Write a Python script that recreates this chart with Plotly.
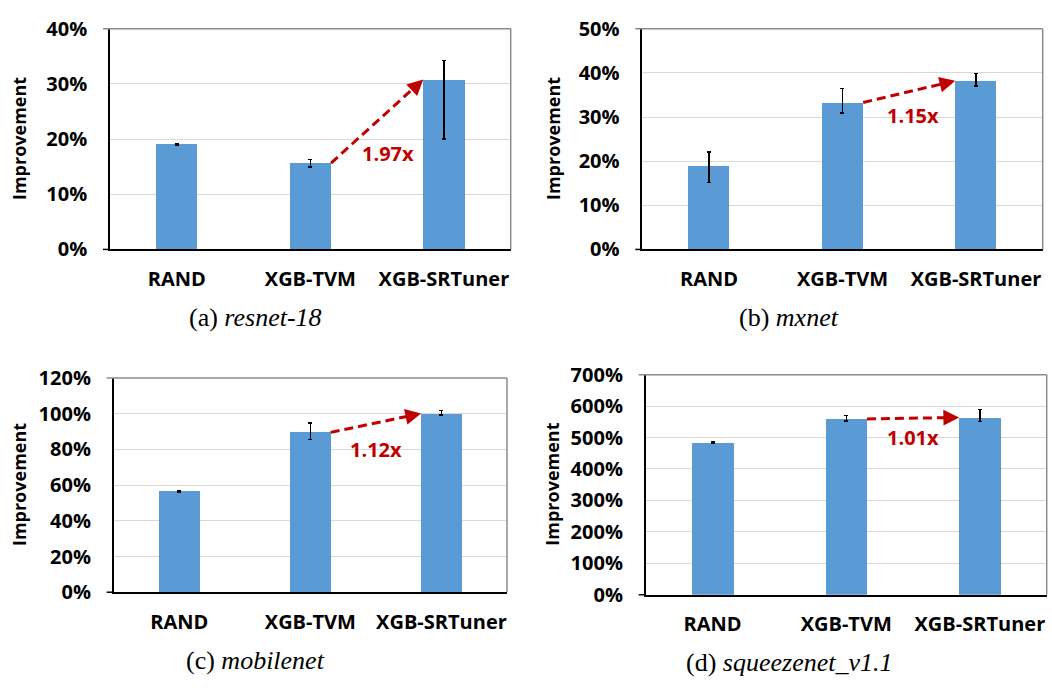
import plotly.graph_objects as go

# Tuners compared in every panel
categories = ["RAND", "XGB-TVM", "XGB-SRTuner"]

# Improvement (%) per network, with asymmetric error bars
resnet18 = [19.1, 15.65, 30.8]
resnet18_err_plus = [0.15, 0.7, 3.5]
resnet18_err_minus = [0.15, 0.7, 10.8]

mxnet = [19.0, 33.3, 38.2]
mxnet_err_plus = [3.1, 3.2, 1.6]
mxnet_err_minus = [3.9, 2.4, 1.2]

mobilenet = [56.5, 89.5, 100.1]
mobilenet_err_plus = [0.4, 5.2, 1.5]
mobilenet_err_minus = [0.4, 3.9, 0.9]

squeezenet = [484, 559, 564]
squeezenet_err_plus = [2, 12, 26]
squeezenet_err_minus = [2, 6, 14]

captions = ["(a) <i>resnet-18</i>", "(b) <i>mxnet</i>",
            "(c) <i>mobilenet</i>", "(d) <i>squeezenet_v1.1</i>"]

W, H = 1052, 692
BAR = "#5B9BD5"
RED = "#C00000"
BAR_W = 0.31

# panel layout in pixels: (left, right, top, bottom), y max, dtick, label pos
panels = [
    dict(vals=resnet18, ep=resnet18_err_plus, em=resnet18_err_minus,
         box=(110, 510.7, 15.3, 245), ymax=40, dtick=10,
         txt=(1.58, 17.4), cap=(255, 316), ylab=19),
    dict(vals=mxnet, ep=mxnet_err_plus, em=mxnet_err_minus,
         box=(642.3, 1042.7, 15.3, 245), ymax=50, dtick=10,
         txt=(1.53, 30.3), cap=(789, 316), ylab=553),
    dict(vals=mobilenet, ep=mobilenet_err_plus, em=mobilenet_err_minus,
         box=(113.7, 507, 378.7, 601.7), ymax=120, dtick=20,
         txt=(1.50, 79.9), cap=(255, 673), ylab=19),
    dict(vals=squeezenet, ep=squeezenet_err_plus, em=squeezenet_err_minus,
         box=(645.7, 1046.7, 375.3, 604.3), ymax=700, dtick=100,
         txt=(1.50, 499), cap=(789, 675), ylab=552),
]

SANS = "Open Sans"
BOLD = dict(family=SANS, size=20, color="black", weight="bold")

fig = go.Figure()
shapes, annotations = [], []

for i, p in enumerate(panels, start=1):
    xa = "x" if i == 1 else f"x{i}"
    ya = "y" if i == 1 else f"y{i}"
    left, right, top, bottom = p["box"]
    x0, x1 = left / W, right / W
    y0, y1 = 1 - bottom / H, 1 - top / H

    fig.add_trace(go.Bar(
        x=[0, 1, 2], y=p["vals"], width=BAR_W, marker_color=BAR,
        marker_line_width=0, xaxis=xa, yaxis=ya, showlegend=False,
        error_y=dict(type="data", symmetric=False, array=p["ep"],
                     arrayminus=p["em"], color="black", thickness=1.3,
                     width=2),
    ))

    xkey = "xaxis" if i == 1 else f"xaxis{i}"
    ykey = "yaxis" if i == 1 else f"yaxis{i}"
    fig.update_layout(**{
        xkey: dict(domain=[x0, x1], anchor=ya, range=[-0.5, 2.5],
                   tickvals=[0, 1, 2], ticktext=categories,
                   tickfont=BOLD, showline=True, linecolor="black",
                   linewidth=1.5, ticks="", ticklabelstandoff=11,
                   showgrid=False, zeroline=False, fixedrange=True),
        ykey: dict(domain=[y0, y1], anchor=xa, range=[0, p["ymax"]],
                   dtick=p["dtick"], ticksuffix="%", tickfont=BOLD,
                   showline=True, linecolor="black", linewidth=1.5,
                   showgrid=True, gridcolor="#D9D9D9", gridwidth=1,
                   ticks="", ticklabelstandoff=17, zeroline=False,
                   fixedrange=True),
    })

    # plot-area frame: grey top/right edges, short extensions on the left
    shapes += [
        dict(type="line", xref="paper", yref="paper", x0=(left - 7) / W,
             x1=x1, y0=y1, y1=y1, line=dict(color="#8C8C8C", width=1.5)),
        dict(type="line", xref="paper", yref="paper", x0=x1, x1=x1,
             y0=y0, y1=y1, line=dict(color="#8C8C8C", width=1.5)),
        dict(type="line", xref="paper", yref="paper", x0=(left - 7) / W,
             x1=x0, y0=y0, y1=y0, line=dict(color="black", width=1.5)),
    ]

    # dashed speed-up arrow from the XGB-TVM bar to the XGB-SRTuner bar
    v1, v2 = p["vals"][1], p["vals"][2]
    sx, sy = 1 + BAR_W / 2, v1
    ex, ey = 2 - BAR_W / 2, v2
    px_x = (right - left) / 3.0
    px_y = (bottom - top) / p["ymax"]
    dxp, dyp = (ex - sx) * px_x, (ey - sy) * px_y
    L = (dxp ** 2 + dyp ** 2) ** 0.5
    ux, uy = dxp / L, dyp / L
    head = 12
    shapes.append(dict(
        type="line", xref=xa, yref=ya, x0=sx, y0=sy,
        x1=ex - ux * head / px_x, y1=ey - uy * head / px_y,
        line=dict(color=RED, width=3, dash="9px,5px")))
    annotations.append(dict(
        x=ex, y=ey, xref=xa, yref=ya, ax=-ux * 14, ay=uy * 14,
        axref="pixel", ayref="pixel", text="", showarrow=True,
        arrowhead=2, arrowsize=1.05, arrowwidth=3, arrowcolor=RED,
        standoff=0))
    annotations.append(dict(
        x=p["txt"][0], y=p["txt"][1], xref=xa, yref=ya,
        text=f"{v2 / v1:.2f}x", showarrow=False,
        xanchor="center", yanchor="middle",
        font=dict(family=SANS, size=20, color=RED, weight="bold")))

    # y-axis title
    annotations.append(dict(
        x=p["ylab"] / W, y=1 - ((top + bottom) / 2) / H, xref="paper",
        yref="paper", text="Improvement", textangle=-90, showarrow=False,
        xanchor="center", yanchor="middle",
        font=dict(family=SANS, size=18, color="black", weight="bold")))

    # panel caption
    annotations.append(dict(
        x=p["cap"][0] / W, y=1 - p["cap"][1] / H, xref="paper",
        yref="paper", text=captions[i - 1], showarrow=False,
        xanchor="center", yanchor="middle",
        font=dict(family="Liberation Serif", size=26, color="black")))

fig.update_layout(
    width=W, height=H, margin=dict(l=0, r=0, t=0, b=0),
    paper_bgcolor="white", plot_bgcolor="white",
    shapes=shapes, annotations=annotations, bargap=0,
)

fig.write_html("out.html")
